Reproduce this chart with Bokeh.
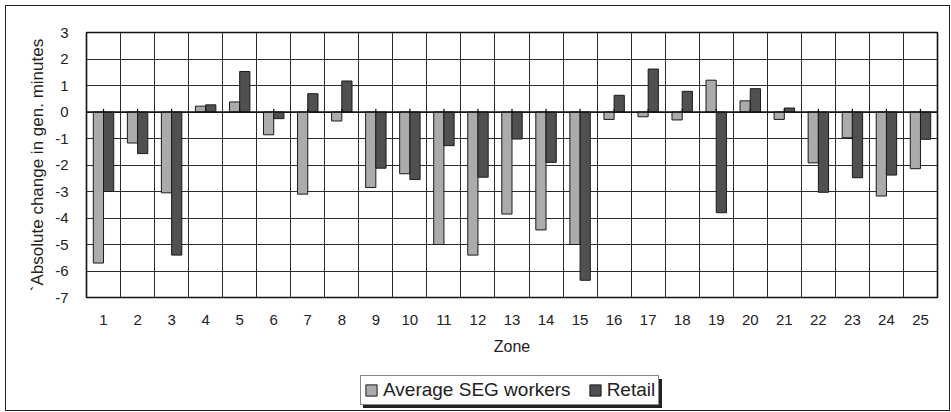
from bokeh.plotting import figure
from bokeh.layouts import column
from bokeh.models import (Range1d, FixedTicker, Legend, LegendItem, ColumnDataSource,
                          InlineStyleSheet)
from bokeh.transform import dodge
from bokeh.embed import file_html
from bokeh.resources import INLINE

# Absolute change in generalised minutes per zone
zones = list(range(1, 26))
seg_workers = [-5.70, -1.17, -3.05, 0.22, 0.38, -0.86, -3.10, -0.34, -2.85, -2.33,
               -5.00, -5.40, -3.85, -4.45, -5.00, -0.28, -0.18, -0.30, 1.20, 0.42,
               -0.28, -1.92, -0.97, -3.17, -2.14]
retail = [-3.00, -1.57, -5.40, 0.27, 1.53, -0.25, 0.69, 1.17, -2.12, -2.55,
          -1.27, -2.46, -1.02, -1.90, -6.35, 0.63, 1.62, 0.78, -3.80, 0.88,
          0.15, -3.03, -2.48, -2.38, -1.03]
y_ticks = list(range(-7, 4))
series_names = ["Average SEG workers", "Retail"]

FONT = "Liberation Sans"
INK = "#222222"
LIGHT = "#ababab"
DARK = "#505050"
EDGE = "#1a1a1a"

src = ColumnDataSource(dict(zone=zones, seg=seg_workers, retail=retail))
series_cols = ["seg", "retail"]
series_colors = [LIGHT, DARK]
series_shift = [-0.15, 0.15]

p = figure(width=951, height=360, output_backend="svg", toolbar_location=None,
           x_range=Range1d(0.5, 25.5), y_range=Range1d(y_ticks[0], y_ticks[-1]),
           min_border_left=86, min_border_right=14, min_border_top=32,
           min_border_bottom=63)
p.background_fill_color = "white"
p.border_fill_color = "white"
p.outline_line_color = "#111111"
p.outline_line_width = 1.6

# grid: horizontal at every minute, vertical at zone boundaries
p.ygrid.ticker = FixedTicker(ticks=y_ticks)
p.xgrid.ticker = FixedTicker(ticks=[z + 0.5 for z in zones[:-1]])
for g in (p.xgrid, p.ygrid):
    g.grid_line_color = "#2a2a2a"
    g.grid_line_width = 1

for col, color, shift in zip(series_cols, series_colors, series_shift):
    p.vbar(x=dodge("zone", shift, range=p.x_range), top=col, width=0.3,
           source=src, fill_color=color, line_color=EDGE, line_width=1)

# zero line with small category ticks
p.segment(x0=zones[0] - 0.5, x1=zones[-1] + 0.5, y0=0, y1=0, line_color="#111111",
          line_width=1.3)
p.segment(x0="zone", x1="zone", y0=0, y1=0.12, source=src, line_color="#111111",
          line_width=1.2)

# axes
p.xaxis.ticker = FixedTicker(ticks=zones)
p.xaxis.axis_label = "Zone"
p.yaxis.ticker = FixedTicker(ticks=y_ticks)
p.yaxis.major_label_overrides = {v: str(v) for v in y_ticks}
p.yaxis.axis_label = "`Absolute change in gen. minutes"
for ax in (p.xaxis[0], p.yaxis[0]):
    ax.axis_line_color = None
    ax.major_tick_line_color = None
    ax.minor_tick_line_color = None
    ax.major_label_text_font = FONT
    ax.major_label_text_font_size = "15px"
    ax.major_label_text_color = INK
    ax.axis_label_text_font = FONT
    ax.axis_label_text_font_style = "normal"
    ax.axis_label_text_color = INK
p.xaxis.major_label_standoff = 11
p.xaxis.axis_label_standoff = 10
p.xaxis.axis_label_text_font_size = "16px"
p.yaxis.major_label_standoff = 12
p.yaxis.axis_label_standoff = 5
p.yaxis.axis_label_text_font_size = "17px"

# legend strip under the chart; its swatch renderers sit outside the visible range
leg = figure(width=951, height=52, output_backend="svg", toolbar_location=None,
             x_range=Range1d(0.5, 25.5), y_range=Range1d(50, 51),
             x_axis_type=None, y_axis_type=None,
             min_border_left=0, min_border_right=0, min_border_top=0,
             min_border_bottom=0)
leg.outline_line_color = None
leg.background_fill_color = "white"
leg.border_fill_color = "white"
leg.grid.visible = False
swatches = [leg.vbar(x="zone", top=col, width=0.3, source=src, fill_color=color,
                     line_color=EDGE, line_width=1)
            for col, color in zip(series_cols, series_colors)]
legend = Legend(items=[LegendItem(label=n, renderers=[r])
                       for n, r in zip(series_names, swatches)],
                orientation="horizontal", location=(274, 7))
legend.label_text_font = FONT
legend.label_text_font_size = "19px"
legend.label_text_line_height = 0.8
legend.label_text_color = INK
legend.label_height = 12
legend.glyph_width = 14
legend.glyph_height = 14
legend.label_standoff = 5
legend.spacing = 17
legend.padding = 3
legend.margin = 0
legend.border_line_color = "#111111"
legend.border_line_width = 1.3
legend.background_fill_color = "white"
legend.background_fill_alpha = 1
leg.add_layout(legend, "center")

page = column(p, leg, spacing=0)

# chart border and legend drop shadow
page.stylesheets = [InlineStyleSheet(css="""
:host { position: relative; }
:host::after {
  content: ""; position: absolute; left: 5px; top: 5px; width: 945px; height: 406px;
  box-sizing: border-box; border: 1.5px solid #222; pointer-events: none; z-index: 5;
}
:host::before {
  content: ""; position: absolute; left: 360px; top: 376px; width: 299px; height: 29px;
  box-shadow: 3px 3px 0 #222; pointer-events: none; z-index: 5;
}
""")]

open("out.html", "w").write(file_html(page, INLINE))
